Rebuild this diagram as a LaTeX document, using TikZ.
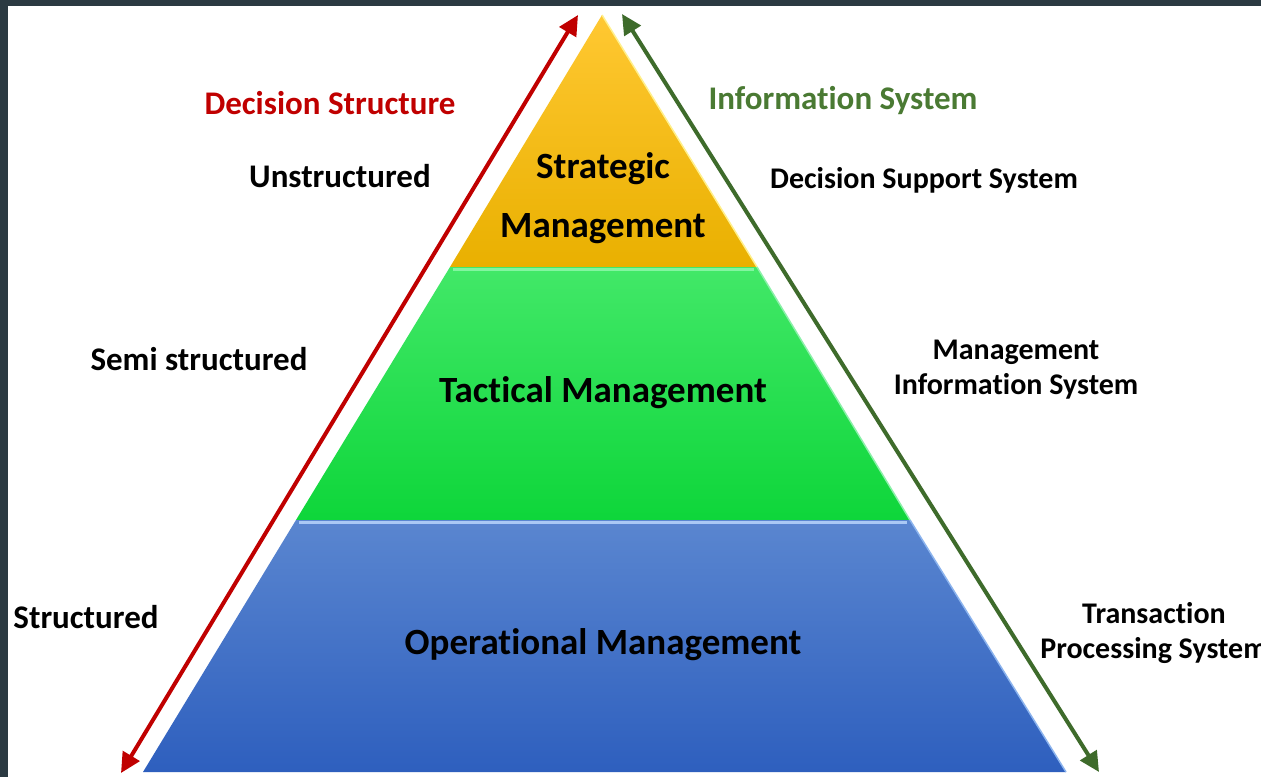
\documentclass[tikz,border=0pt]{standalone}
\usepackage{fontspec}
\setmainfont{Carlito}[Ligatures=NoCommon]
\usetikzlibrary{arrows.meta}
\definecolor{frame}{HTML}{2B3A42}
\definecolor{dred}{HTML}{C00000}
\definecolor{dgreen}{HTML}{3E6B2B}
\definecolor{tgreen}{HTML}{4A7A33}
\definecolor{goldtop}{HTML}{FFC832}
\definecolor{goldbot}{HTML}{E9B000}
\definecolor{greentop}{HTML}{42E868}
\definecolor{greenbot}{HTML}{0ED63A}
\definecolor{bluetop}{HTML}{5A86D0}
\definecolor{bluebot}{HTML}{2E5FBE}
\begin{document}
\begin{tikzpicture}[x=1pt,y=-1pt,
  side/.style={font=\bfseries\fontsize{33}{40}\selectfont, inner sep=0pt, align=center, text=black},
  sys/.style={font=\bfseries\fontsize{30}{35}\selectfont, inner sep=0pt, align=center, text=black},
  inner/.style={font=\bfseries\fontsize{37}{59}\selectfont, inner sep=0pt, align=center, text=black},
  head/.style={font=\bfseries\fontsize{33}{40}\selectfont, inner sep=0pt},
  dbl/.style={line width=4pt, {Triangle[length=20pt,width=19pt]}-{Triangle[length=20pt,width=19pt]}}
]
\useasboundingbox (0,0) rectangle (1261,777);
\fill[frame] (0,0) rectangle (1261,777);
\fill[white] (8,6) rectangle (1261,777);

% pyramid corners
\coordinate (apex) at (602,15);
\coordinate (t1l) at (450,267);
\coordinate (t1r) at (757,267);
\coordinate (t2l) at (296,520);
\coordinate (t2r) at (910,520);
\coordinate (bl) at (143,772);
\coordinate (br) at (1066,772);

\shade[top color=goldtop, bottom color=goldbot] (apex) -- (t1r) -- (t1l) -- cycle;
\shade[top color=greentop, bottom color=greenbot] (t1l) -- (t1r) -- (t2r) -- (t2l) -- cycle;
\shade[top color=bluetop, bottom color=bluebot] (t2l) -- (t2r) -- (br) -- (bl) -- cycle;

% highlights
\draw[line width=1.5pt, color={rgb,255:red,255;green,240;blue,140}] (apex) -- (t1r);
\draw[line width=3pt, color={rgb,255:red,130;green,245;blue,160}] ([xshift=3pt,yshift=-2pt]t1l) -- ([xshift=-3pt,yshift=-2pt]t1r);
\draw[line width=1.5pt, color={rgb,255:red,140;green,240;blue,170}] (t1r) -- (t2r);
\draw[line width=3pt, color={rgb,255:red,170;green,201;blue,245}] ([xshift=3pt,yshift=-2pt]t2l) -- ([xshift=-3pt,yshift=-2pt]t2r);
\draw[line width=1.5pt, color={rgb,255:red,140;green,180;blue,238}] (t2r) -- (br);

% arrows
\coordinate (r1) at (578,15);
\coordinate (r2) at (121,773);
\coordinate (g1) at (622,14);
\coordinate (g2) at (1099,772);
\draw[dbl, dred] (r1) -- (r2);
\draw[dbl, dgreen] (g1) -- (g2);

% headings
\node[head, text=dred] (ds) at (330,103) {Decision Structure};
\node[head, text=tgreen] (is) at (843,101) {Information System};

% left labels
\node[side] (uns) at (340,176) {Unstructured};
\node[side] (semi) at (199,359) {Semi structured};
\node[side] (str) at (86,617) {Structured};

% right labels
\node[sys] (dss) at (924,180) {Decision Support System};
\node[sys] (mis) at (1016,370) {Management\\Information System};
\node[sys] (tps) at (1154,633) {Transaction\\Processing System};

% levels
\node[inner] (sm) at (603,198) {Strategic\\Management};
\node[inner] (tm) at (603,393) {Tactical Management};
\node[inner] (om) at (603,645) {Operational Management};
\end{tikzpicture}
\end{document}
